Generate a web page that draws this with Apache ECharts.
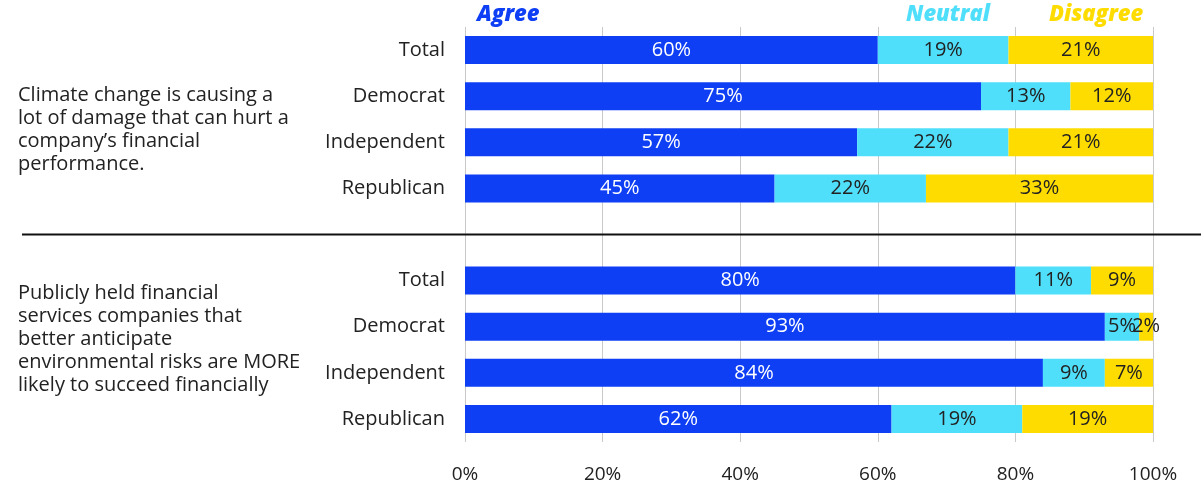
<!DOCTYPE html>
<html>
<head>
<meta charset="utf-8">
<script src="https://cdn.jsdelivr.net/npm/echarts@6/dist/echarts.min.js"></script>
<style>
  html, body { margin: 0; padding: 0; background: #fff; }
  #chart { width: 1201px; height: 486px; }
</style>
</head>
<body>
<div id="chart"></div>
<script>
// Row labels (an empty slot separates the two statements)
const categories = ['Total', 'Democrat', 'Independent', 'Republican', '', 'Total', 'Democrat', 'Independent', 'Republican'];
// Share of respondents, in percent
const agree    = [60, 75, 57, 45, null, 80, 93, 84, 62];
const neutral  = [19, 13, 22, 22, null, 11, 5, 9, 19];
const disagree = [21, 12, 21, 33, null, 9, 2, 7, 19];
const seriesNames = ['Agree', 'Neutral', 'Disagree'];
const statements = [
  'Climate change is causing a\nlot of damage that can hurt a\ncompany\u2019s financial\nperformance.',
  'Publicly held financial\nservices companies that\nbetter anticipate\nenvironmental risks are MORE\nlikely to succeed financially'
];

const FONT = '"Open Sans", "Noto Sans", sans-serif';
const COLORS = ['#0f3ff5', '#4fdffa', '#ffdc00'];

const chart = echarts.init(document.getElementById('chart'), null, { renderer: 'canvas' });

function barSeries(name, data, color, textColor) {
  return {
    name: name,
    type: 'bar',
    stack: 'share',
    data: data,
    barWidth: 28,
    itemStyle: { color: color },
    label: {
      show: true,
      position: 'inside',
      color: textColor,
      fontFamily: FONT,
      fontSize: 20,
      formatter: p => (p.value == null ? '' : p.value + '%')
    },
    emphasis: { disabled: true }
  };
}

chart.setOption({
  animation: false,
  textStyle: { fontFamily: FONT },
  grid: { left: 465, right: 48, top: 27, bottom: 44, containLabel: false },
  xAxis: {
    type: 'value',
    min: 0,
    max: 100,
    interval: 20,
    axisLine: { show: false },
    axisTick: { show: false },
    splitLine: { show: true, lineStyle: { color: '#c9c9c9', width: 1 } },
    axisLabel: { formatter: '{value}%', color: '#222', fontSize: 19, margin: 23, fontFamily: FONT }
  },
  yAxis: {
    type: 'category',
    data: categories,
    inverse: true,
    axisLine: { show: false },
    axisTick: { show: false },
    axisLabel: { color: '#222', fontSize: 20, margin: 20, fontFamily: FONT }
  },
  series: [
    barSeries(seriesNames[0], agree, COLORS[0], '#ffffff'),
    barSeries(seriesNames[1], neutral, COLORS[1], '#222222'),
    barSeries(seriesNames[2], disagree, COLORS[2], '#222222')
  ]
});

// Column headers, separator rule and statement text
const sepY = chart.convertToPixel({ yAxisIndex: 0 }, 4);
const headerStyle = { fontFamily: FONT, fontSize: 22, fontWeight: 800, fontStyle: 'italic' };
const bodyStyle = { fill: '#222', fontFamily: FONT, fontSize: 20, lineHeight: 23 };
chart.setOption({
  graphic: [
    { type: 'text', left: 477, top: 4, style: Object.assign({ text: seriesNames[0], fill: COLORS[0] }, headerStyle) },
    { type: 'text', left: 906, top: 4, style: Object.assign({ text: seriesNames[1], fill: COLORS[1] }, headerStyle) },
    { type: 'text', left: 1049, top: 4, style: Object.assign({ text: seriesNames[2], fill: COLORS[2] }, headerStyle) },
    { type: 'line', shape: { x1: 22, y1: sepY, x2: 1201, y2: sepY }, style: { stroke: '#111', lineWidth: 2 } },
    { type: 'text', left: 18, top: 84, style: Object.assign({ text: statements[0] }, bodyStyle) },
    { type: 'text', left: 18, top: 282, style: Object.assign({ text: statements[1] }, bodyStyle) }
  ]
});
</script>
</body>
</html>
